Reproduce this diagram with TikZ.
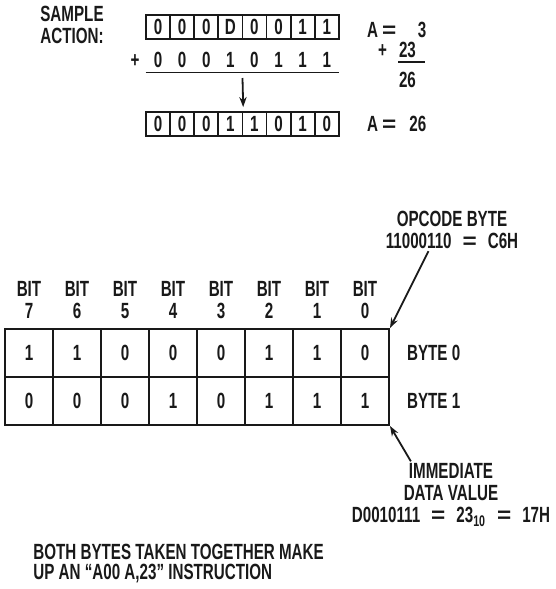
\documentclass[tikz,border=0pt]{standalone}
\usepackage{fontspec}
\setmainfont{Liberation Sans}[FakeStretch=0.69]
\usetikzlibrary{arrows.meta, calc}
\definecolor{ink}{RGB}{25,25,25}
\newcommand{\weq}{\scalebox{1.6}[1]{=}}
\newcommand{\eqs}{\hspace{5.5pt}\weq\hspace{5.5pt}}

\begin{document}
\begin{tikzpicture}[
  x=0.5pt, y=-0.5pt,
  >={Stealth[length=5pt,width=3.6pt]},
  every node/.style={font=\bfseries\fontsize{11}{11}\selectfont, text=ink},
  lbl/.style={align=center, inner sep=1pt},
  regcell/.style={draw=ink, line width=0.9pt, minimum width=12.05pt,
                  minimum height=12pt, inner sep=0pt},
  digit/.style={minimum width=12.05pt, minimum height=12pt, inner sep=0pt},
  bitcell/.style={draw=ink, line width=1pt, minimum width=24pt,
                  minimum height=24pt, inner sep=0pt},
  pointer/.style={->, line width=0.9pt, ink},
]
\useasboundingbox (0,0) rectangle (556,589);

\node[lbl] (sample) at (72,24.5) {SAMPLE\\ACTION:};

\foreach \v [count=\i from 0] in {0,0,0,D,0,0,1,1}
  \node[regcell] (a\i) at ({158.05+24.1*\i},27) {\v};
\foreach \v [count=\i from 0] in {0,0,0,1,0,1,1,1}
  \node[digit] (d\i) at ({158.05+24.1*\i},60) {\v};
\foreach \v [count=\i from 0] in {0,0,0,1,1,0,1,0}
  \node[regcell] (r\i) at ({158.05+24.1*\i},124) {\v};
\node (plus) at (135,61) {+};
\draw[line width=0.9pt, ink] (d0.south west) -- (d7.south east);
\coordinate (sumtop) at (242.5,78);
\draw[pointer, shorten >=2pt] (sumtop) -- (r3.north east);

\node[anchor=west] (acc) at (360,30) {A\hspace{2pt}\weq\hspace{5pt}\makebox[10pt][r]{3}};
\node[anchor=east] (add) at (423,50) {+\hspace{6pt}23};
\draw[line width=0.9pt, ink] (398,62) -- (425,62);
\node[anchor=east] (sum) at (423,80) {26};
\node[anchor=west] (res) at (360,124) {A\hspace{2pt}\weq\hspace{5pt}\makebox[10pt][r]{26}};

\foreach \n [count=\i from 0] in {7,6,5,4,3,2,1,0}
  \node[lbl] (bit\n) at ({29+48*\i},300) {BIT\\\n};
\foreach \v [count=\i from 0] in {1,1,0,0,0,1,1,0}
  \node[bitcell] (p\i) at ({29+48*\i},353) {\v};
\foreach \v [count=\i from 0] in {0,0,0,1,0,1,1,1}
  \node[bitcell] (q\i) at ({29+48*\i},401) {\v};
\node[anchor=west] (byte0) at (400,353) {BYTE 0};
\node[anchor=west] (byte1) at (400,401) {BYTE 1};

\node[lbl] (op) at (452,230) {OPCODE BYTE\\11000110\eqs C6H};
\draw[pointer] (op.222) -- (p7.north east);
\node[lbl] (imm) at (451,495)
  {IMMEDIATE\\DATA VALUE\\D0010111\eqs 23\textsubscript{10}\eqs 17H};
\draw[pointer] (imm.140) -- (q7.south east);

\node[lbl, align=left, anchor=west, font=\bfseries\fontsize{11}{10}\selectfont]
  (note) at (31,564)
  {BOTH BYTES TAKEN TOGETHER MAKE\\UP AN ``A00 A,23'' INSTRUCTION};
\end{tikzpicture}
\end{document}
